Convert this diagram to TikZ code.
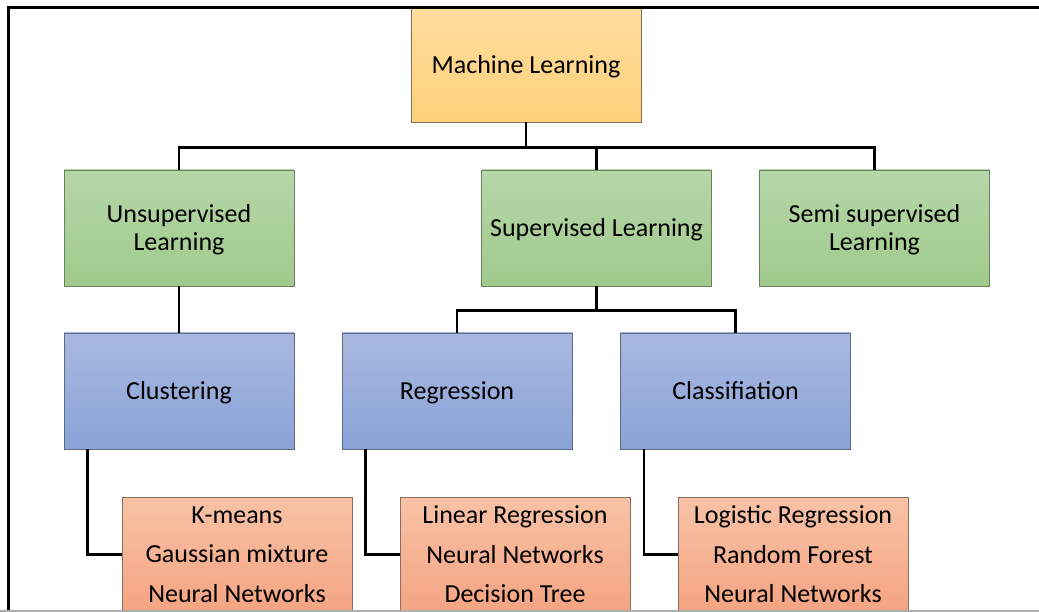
\documentclass[tikz,border=0pt]{standalone}
\usepackage{fontspec}
\setmainfont{Carlito}
\begin{document}
\begin{tikzpicture}[x=1pt,y=-1pt,
  box/.style={rectangle, inner sep=0pt, minimum width=230pt, minimum height=116pt,
    align=center, line width=0.9pt, font=\fontsize{26}{28}\selectfont},
  oneline/.style={text height=19.5pt, text depth=2.5pt},
  twoline/.style={text depth=2pt},
  mlbox/.style={box, oneline, minimum height=114pt, top color=mlTop, bottom color=mlBot, draw=mlEdge},
  catbox/.style={box, top color=grTop, bottom color=grBot, draw=grEdge},
  taskbox/.style={box, oneline, top color=blTop, bottom color=blBot, draw=blEdge},
  algbox/.style={box, minimum height=115pt, top color=orTop, bottom color=orBot, draw=orEdge,
    font=\fontsize{26}{39.5}\selectfont},
  link/.style={draw=black, line width=2.3pt}
]
\definecolor{mlTop}{HTML}{FFDD9E}\definecolor{mlBot}{HTML}{FFD17A}\definecolor{mlEdge}{HTML}{7F6F4F}
\definecolor{grTop}{HTML}{B6D7A8}\definecolor{grBot}{HTML}{A0CA8C}\definecolor{grEdge}{HTML}{6E7F64}
\definecolor{blTop}{HTML}{A9B8E0}\definecolor{blBot}{HTML}{8AA3D8}\definecolor{blEdge}{HTML}{5F6B80}
\definecolor{orTop}{HTML}{F8C2A6}\definecolor{orBot}{HTML}{F4A482}\definecolor{orEdge}{HTML}{8A6E60}

\clip (0,0) rectangle (1039,612);
\fill[white] (0,0) rectangle (1039,612);

% root
\node[mlbox] (ml) at (526,65) {Machine Learning};

% learning paradigms
\node[catbox, twoline] (unsup) at (179,228) {Unsupervised\\Learning};
\node[catbox, oneline] (sup) at (596.5,228) {Supervised Learning};
\node[catbox, twoline] (semi) at (874.5,228) {Semi supervised\\Learning};

% tasks
\node[taskbox] (clust) at (179,391) {Clustering};
\node[taskbox] (regr) at (457,391) {Regression};
\node[taskbox] (class) at (735.5,391) {Classifiation};

% algorithms
\node[algbox] (algA) at (237,554.5) {K-means\\Gaussian mixture\\Neural Networks};
\node[algbox] (algB) at (515,554.5) {Linear Regression\\Neural Networks\\Decision Tree};
\node[algbox] (algC) at (793,554.5) {Logistic Regression\\Random Forest\\Neural Networks};

% tree connectors
\draw[link] (ml.south) -- ++(0,25) -| (unsup.north);
\draw[link] (ml.south) -- ++(0,25) -| (sup.north);
\draw[link] (ml.south) -- ++(0,25) -| (semi.north);
\draw[link] (unsup.south) -- (clust.north);
\draw[link] (sup.south) -- ++(0,24) -| (regr.north);
\draw[link] (sup.south) -- ++(0,24) -| (class.north);
\draw[link] ([xshift=24pt]clust.south west) |- (algA.west);
\draw[link] ([xshift=24pt]regr.south west) |- (algB.west);
\draw[link] ([xshift=24pt]class.south west) |- (algC.west);

% page frame
\draw[black, line width=2.2pt] (8.5,613) -- (8.5,7.5) -- (1040,7.5);
\draw[black!32, line width=1.8pt] (0,610.8) -- (1039,610.8);
\end{tikzpicture}
\end{document}
